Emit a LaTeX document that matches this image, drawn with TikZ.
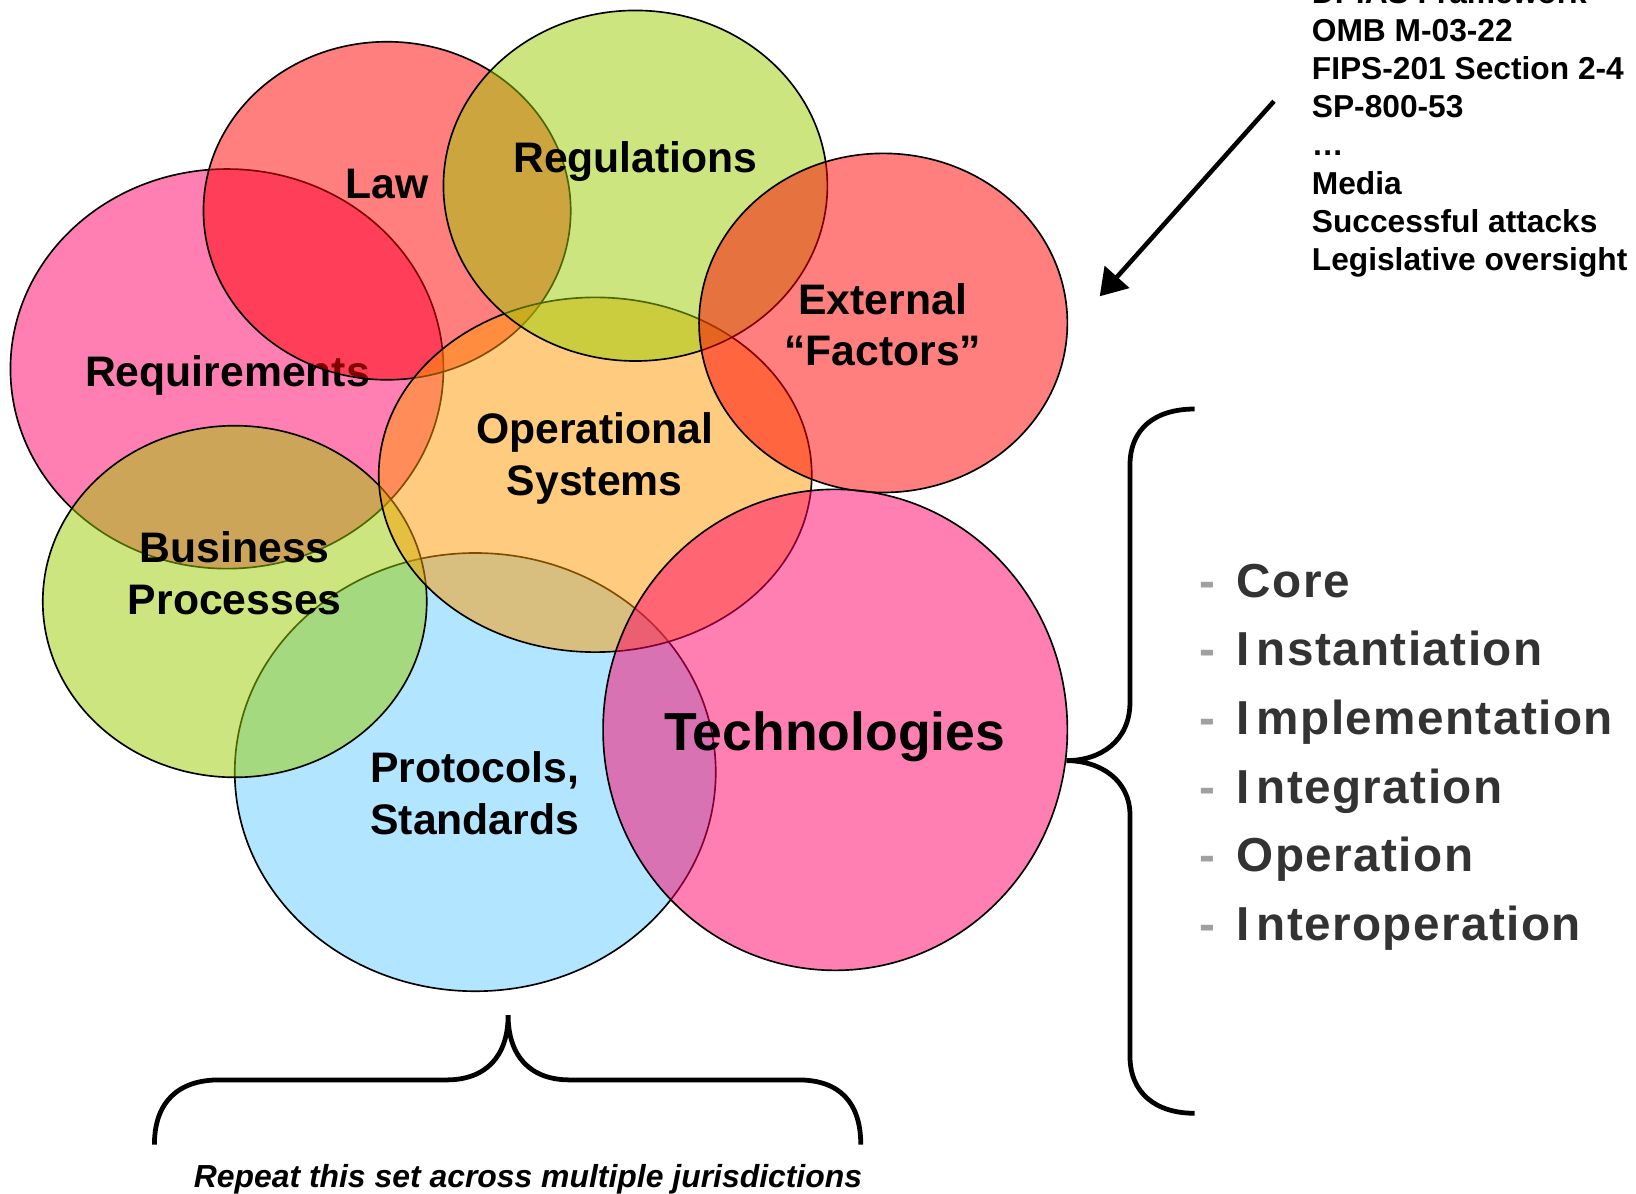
\documentclass[tikz,border=0pt]{standalone}
\usepackage{fontspec}
\setmainfont{Liberation Sans}
\usetikzlibrary{arrows.meta}

% base colours, laid over white at half opacity
\definecolor{cRed}{RGB}{255,0,0}
\definecolor{cPink}{RGB}{255,0,102}
\definecolor{cGreen}{RGB}{153,204,0}
\definecolor{cOrange}{RGB}{255,153,0}
\definecolor{cBlue}{RGB}{102,204,255}
\definecolor{listText}{RGB}{51,51,51}
\definecolor{listDash}{RGB}{160,160,160}

\begin{document}
\begin{tikzpicture}[x=0.02cm, y=-0.02cm,
  setshape/.style={draw=black, line width=0.9pt, fill opacity=0.5},
  setlabel/.style={font=\bfseries\fontsize{23.3}{28}\selectfont, inner sep=0pt, anchor=base},
  biglabel/.style={font=\bfseries\fontsize{29.2}{34}\selectfont, inner sep=0pt, anchor=base},
  srcline/.style={font=\bfseries\fontsize{17.3}{20}\selectfont, inner sep=0pt, anchor=base west},
  stageline/.style={font=\bfseries\fontsize{26}{31}\selectfont\addfontfeature{LetterSpace=3},
    text=listText, inner sep=0pt, anchor=base west},
  stagedash/.style={font=\bfseries\fontsize{26}{31}\selectfont, text=listDash, inner sep=0pt, anchor=base west},
  brace/.style={draw=black, line width=2.6pt},
  pointer/.style={draw=black, line width=2.5pt, -{Triangle[length=0.5cm, width=0.62cm]}}
]
\useasboundingbox (0,0) rectangle (1568,1144);

% --- overlapping sets, back to front ---
\path[setshape, fill=cPink] (217.5,353.5) ellipse [x radius=207.5, y radius=191.5];
\node[setlabel] (req) at (218,370) {Requirements};

\path[setshape, fill=cRed] (371,202) ellipse [x radius=176, y radius=162];
\node[setlabel] (law) at (371,190) {Law};

\path[setshape, fill=cBlue] (455.5,740) ellipse [x radius=230.5, y radius=210];
\node[setlabel] (prot1) at (455,750) {Protocols,};
\node[setlabel] (prot2) at (455,800) {Standards};

\path[setshape, fill=cGreen] (225,576.5) ellipse [x radius=184, y radius=168.5];
\node[setlabel] (bus1) at (225,539) {Business};
\node[setlabel] (bus2) at (225,589) {Processes};

\path[setshape, fill=cOrange] (570.5,455) ellipse [x radius=207.5, y radius=170];
\node[setlabel] (ops1) at (570,425) {Operational};
\node[setlabel] (ops2) at (570,475) {Systems};

\path[setshape, fill=cGreen] (609,178) ellipse [x radius=184, y radius=168];
\node[setlabel] (reg) at (609,165) {Regulations};

\path[setshape, fill=cRed] (846.5,309.5) ellipse [x radius=176.5, y radius=162.5];
\node[setlabel] (ext1) at (846,301) {External};
\node[setlabel] (ext2) at (846,350) {“Factors”};

\path[setshape, fill=cPink] (800.5,699.5) ellipse [x radius=222.5, y radius=230.5];
\node[biglabel] (tech) at (800,719) {Technologies};

% --- sources feeding the external factors ---
\foreach \t [count=\i from 0] in {DPIAS Framework, OMB M-03-22, FIPS-201 Section 2-4,
    SP-800-53, …, Media, Successful attacks, Legislative oversight}
  \node[srcline] (src\i) at (1257,{3+36.6*\i}) {\t};

\coordinate (arrowStart) at (1221,97);
\coordinate (arrowEnd) at (1054,284);
\path[pointer] (arrowStart) -- (arrowEnd);

% --- lifecycle stages of the technologies ---
\path[brace] (1145,392) .. controls (1108,392) and (1083,410) .. (1083,446)
  -- (1083,673) .. controls (1083,710) and (1055,729) .. (1022,729)
  .. controls (1055,729) and (1083,748) .. (1083,781)
  -- (1083,1012) .. controls (1083,1048) and (1108,1067) .. (1145,1067);

\foreach \t [count=\i from 0] in {Core, I\kern.14em nstantiation, I\kern.14em mplementation,
    I\kern.14em ntegration, Operation, I\kern.14em nteroperation}
{
  \node[stagedash] (dash\i) at (1149,{572.5+65.8*\i}) {-};
  \node[stageline] (stage\i) at (1185,{572.5+65.8*\i}) {\t};
}

% --- jurisdictions ---
\path[brace] (148,1097) .. controls (148,1057) and (170,1035) .. (210,1035)
  -- (428,1035) .. controls (466,1035) and (487,1012) .. (487,973)
  .. controls (487,1012) and (508,1035) .. (546,1035)
  -- (765,1035) .. controls (805,1035) and (825,1057) .. (825,1097);

\node[font=\bfseries\itshape\fontsize{17.4}{21}\selectfont, inner sep=0pt, anchor=base]
  (repeat) at (506,1138) {Repeat this set across multiple jurisdictions};
\end{tikzpicture}
\end{document}
